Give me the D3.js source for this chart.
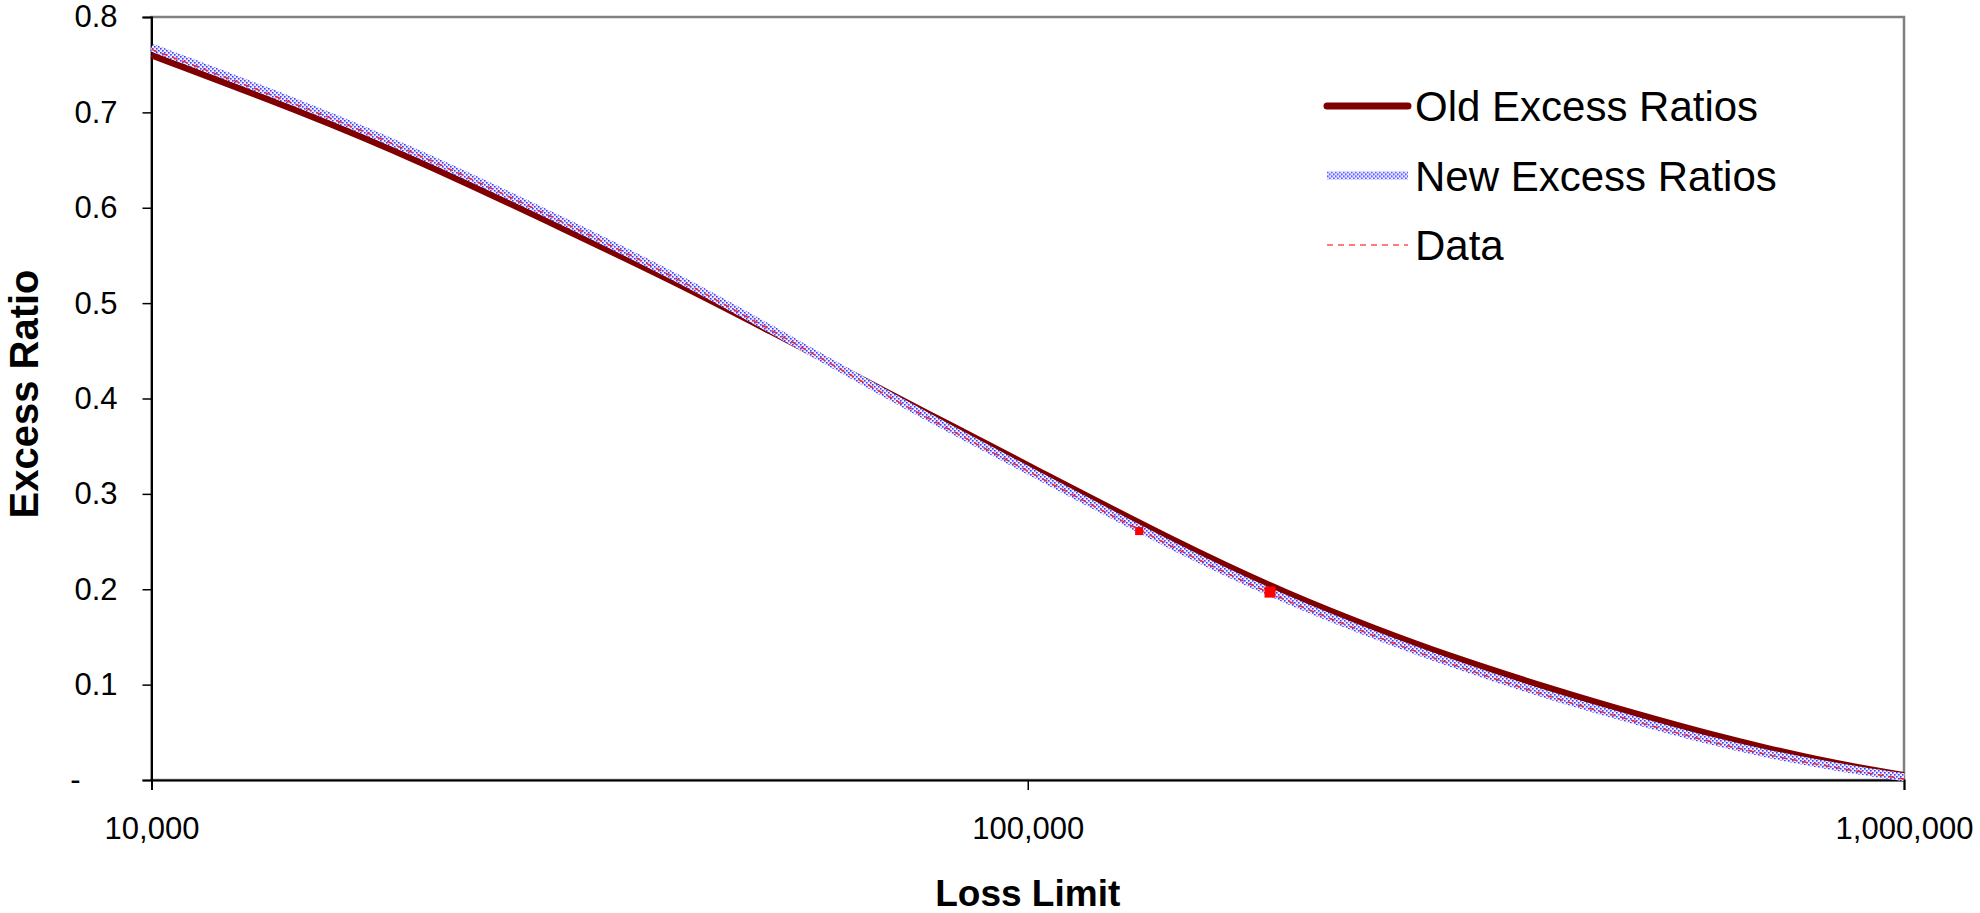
<!DOCTYPE html>
<meta charset="utf-8">
<head>
    <script src="https://d3js.org/d3.v7.min.js"></script>
    <style>
        body { margin: 0; background: #fff; font-family: "Liberation Sans", Arial, Helvetica, sans-serif; }
        .tick text { font-size: 31px; fill: #000; }
    </style>
</head>
<body>
<svg></svg>
<script>
    // loss limits (log axis)
    var limits = [10000, 15000, 20000, 30000, 40000, 50000, 70000, 80000, 100000, 150000,
                  200000, 250000, 300000, 400000, 500000, 600000, 700000, 800000, 900000, 1000000];
    var oldRatios = [0.760, 0.699, 0.651, 0.575, 0.520, 0.474, 0.404, 0.376, 0.330, 0.246,
                     0.193, 0.158, 0.131, 0.094, 0.068, 0.048, 0.033, 0.021, 0.012, 0.005];
    var newRatios = [0.768, 0.707, 0.659, 0.583, 0.526, 0.477, 0.401, 0.372, 0.325, 0.239,
                     0.186, 0.151, 0.124, 0.086, 0.061, 0.041, 0.027, 0.017, 0.009, 0.003];
    var dataRatios = [0.766, 0.705, 0.658, 0.582, 0.525, 0.476, 0.400, 0.371, 0.324, 0.238,
                      0.185, 0.150, 0.123, 0.085, 0.060, 0.040, 0.026, 0.016, 0.008, 0.001];
    // the two data points drawn with square markers
    var pointLimits = [134000, 189000];
    var pointRatios = [0.261, 0.197];

    var xTicks = [10000, 100000, 1000000];
    var yTicks = [0, 0.1, 0.2, 0.3, 0.4, 0.5, 0.6, 0.7, 0.8];
    var legendNames = ["Old Excess Ratios", "New Excess Ratios", "Data"];

    var width = 1980,
        height = 913,
        margin = {top: 17, right: 76, bottom: 133, left: 151.5};

    var svg = d3.select('svg')
        .attr('width', width)
        .attr('height', height);

    var x = d3.scaleLog()
        .domain([10000, 1000000])
        .range([margin.left, width - margin.right]);
    var y = d3.scaleLinear()
        .domain([0, 0.8])
        .range([height - margin.bottom, margin.top]);

    // dotted fill used by Excel for the "new" line
    var defs = svg.append('defs');
    var pat = defs.append('pattern')
        .attr('id', 'dots')
        .attr('patternUnits', 'userSpaceOnUse')
        .attr('width', 4).attr('height', 4);
    pat.append('rect').attr('width', 4).attr('height', 4).attr('fill', '#ececff');
    pat.append('rect').attr('x', 0).attr('y', 0).attr('width', 1.6).attr('height', 1.6).attr('fill', '#3c3cff');
    pat.append('rect').attr('x', 2).attr('y', 2).attr('width', 1.6).attr('height', 1.6).attr('fill', '#3c3cff');

    // plot frame
    svg.append('rect')
        .attr('x', x.range()[0]).attr('y', y.range()[1])
        .attr('width', x.range()[1] - x.range()[0])
        .attr('height', y.range()[0] - y.range()[1])
        .attr('fill', 'none')
        .attr('stroke', '#808080')
        .attr('stroke-width', 2.5);

    // axes
    var yAxis = svg.append('g')
        .attr('transform', 'translate(' + margin.left + ',0)')
        .call(d3.axisLeft(y).tickValues(yTicks).tickSize(9).tickPadding(25)
            .tickFormat(function (d) { return d === 0 ? '-' : d3.format('.1f')(d); }));
    yAxis.selectAll('.tick text')
        .attr('dx', function (d) { return d === 0 ? -37 : 0; });

    var xAxis = svg.append('g')
        .attr('transform', 'translate(0,' + (height - margin.bottom) + ')')
        .call(d3.axisBottom(x).tickValues(xTicks).tickSize(10).tickPadding(27)
            .tickFormat(d3.format(',')));

    [yAxis, xAxis].forEach(function (a) {
        a.select('.domain').attr('stroke', '#000').attr('stroke-width', 2);
        a.selectAll('.tick line').attr('stroke', '#000').attr('stroke-width', 1.5);
        a.selectAll('.tick text').attr('font-family', '"Liberation Sans", Arial, sans-serif');
    });

    // axis titles
    svg.append('text')
        .attr('x', (x.range()[0] + x.range()[1]) / 2)
        .attr('y', 906)
        .attr('text-anchor', 'middle')
        .style('font-size', '37px')
        .style('font-weight', 'bold')
        .text('Loss Limit');

    svg.append('text')
        .attr('transform', 'translate(38,' + 394 + ') rotate(-90)')
        .attr('text-anchor', 'middle')
        .style('font-size', '40px')
        .style('font-weight', 'bold')
        .text('Excess Ratio');

    // lines
    function series(vals) {
        return limits.map(function (l, i) { return [l, vals[i]]; });
    }
    var line = d3.line()
        .x(function (d) { return x(d[0]); })
        .y(function (d) { return y(d[1]); })
        .curve(d3.curveBasis);

    svg.append('path')
        .datum(series(oldRatios))
        .attr('d', line)
        .attr('fill', 'none')
        .attr('stroke', '#800000')
        .attr('stroke-width', 6.5);

    svg.append('path')
        .datum(series(newRatios))
        .attr('d', line)
        .attr('fill', 'none')
        .attr('stroke', 'url(#dots)')
        .attr('stroke-width', 8);

    svg.append('path')
        .datum(series(dataRatios))
        .attr('d', line)
        .attr('fill', 'none')
        .attr('stroke', '#ff2020')
        .attr('stroke-width', 1.4)
        .attr('stroke-dasharray', '6,5');

    svg.selectAll('.pt')
        .data(pointLimits)
        .enter().append('rect')
        .attr('class', 'pt')
        .attr('width', function (d, i) { return i ? 11 : 8; })
        .attr('height', function (d, i) { return i ? 11 : 8; })
        .attr('x', function (d, i) { return x(d) - (i ? 5.5 : 4); })
        .attr('y', function (d, i) { return y(pointRatios[i]) - (i ? 5.5 : 4); })
        .attr('fill', '#ff0000');

    // legend
    var legend = svg.append('g')
        .selectAll('g')
        .data(legendNames)
        .enter().append('g')
        .attr('transform', function (d, i) { return 'translate(1327,' + (106 + i * 69.5) + ')'; });

    legend.append('line')
        .attr('x1', 0).attr('x2', 81)
        .attr('stroke', function (d, i) { return ['#800000', 'url(#dots)', '#ff5050'][i]; })
        .attr('stroke-width', function (d, i) { return [7, 8, 1.5][i]; })
        .attr('stroke-linecap', function (d, i) { return i === 0 ? 'round' : 'butt'; })
        .attr('stroke-dasharray', function (d, i) { return i === 2 ? '6,5' : null; });

    legend.append('text')
        .attr('x', 88)
        .attr('dy', '0.36em')
        .style('font-size', '42px')
        .text(function (d) { return d; });
</script>
</body>
</html>
